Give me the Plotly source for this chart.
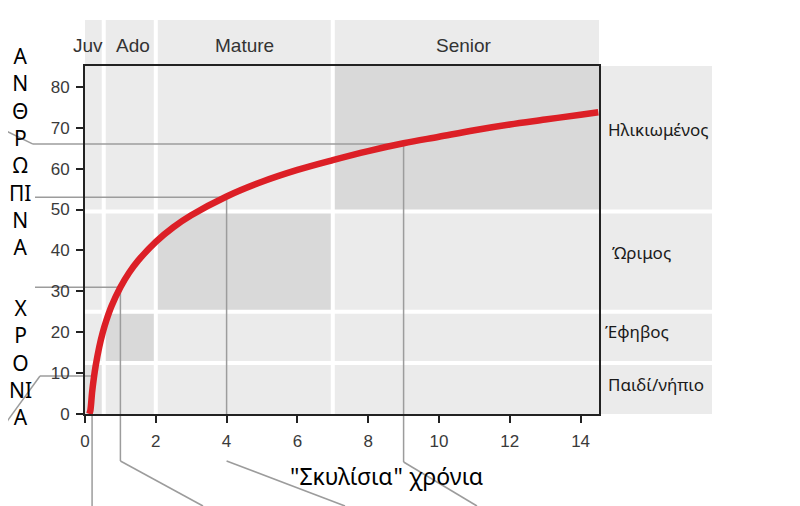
import plotly.graph_objects as go

# ---------------- data ----------------
dog_years = [0.12, 0.15, 0.2, 0.25, 0.3, 0.4, 0.5, 0.6, 0.75, 1, 1.25, 1.5, 2, 2.5,
             3, 4, 5, 6, 7, 8, 9, 10, 11, 12, 13, 14, 14.5]
human_years = [0, 0.8, 5.3, 8.8, 11.7, 16.3, 19.9, 22.8, 26.4, 31, 34.6, 37.5, 42.1, 45.7,
               48.6, 53.2, 56.8, 59.7, 62.1, 64.3, 66.2, 67.8, 69.4, 70.8, 72, 73.2, 73.8]

dog_stage_labels = ["Juv", "Ado", "Mature", "Senior"]
dog_stage_bounds = [0, 0.53, 2, 7, 14.52]
human_stage_labels = ["Παιδί/νήπιο", "Έφηβος", "Ώριμος", "Ηλικιωμένος"]
human_stage_bounds = [0, 12.5, 25, 49.5, 85.1]
human_label_pos = [7.1, 20.1, 39.4, 69.5]

guide_dog = [0.2, 1, 4, 9]
guide_human = [9.3, 31, 53, 66]

x_ticks = [0, 2, 4, 6, 8, 10, 12, 14]
y_ticks = [0, 10, 20, 30, 40, 50, 60, 70, 80]

left_title_1 = ["Α", "Ν", "Θ", "Ρ", "Ω", "ΠΙ", "Ν", "Α"]
left_title_2 = ["Χ", "Ρ", "Ο", "ΝΙ", "Α"]
x_title = '"Σκυλίσια" χρόνια'

# ---------------- layout geometry ----------------
OFF = 8                      # page body margin in the browser
W, H = 800, 506
PL, PT = 85, 66              # plot area top-left on the page
PW, PH = 514, 348
L, T = PL - OFF, PT - OFF
R, B = W - L - PW, H - T - PH
XR = [0, dog_stage_bounds[-1]]
YR = [0, human_stage_bounds[-1]]


def px_x(px):
    return (px - PL) / PW


def px_y(py):
    return (PT + PH - py) / PH


def dx(d):
    return (d - XR[0]) / (XR[1] - XR[0])


def hy(h):
    return (h - YR[0]) / (YR[1] - YR[0])


LIGHT = "#ebebeb"
DARK = "#d9d9d9"
JUV = "#e1e1e1"
GUIDE = "#9c9c9c"

shapes = []


def rect(x0, x1, y0, y1, color):
    shapes.append(dict(type="rect", xref="paper", yref="paper", x0=x0, x1=x1, y0=y0, y1=y1,
                       fillcolor=color, line=dict(width=0), layer="below"))


def seg(x0, y0, x1, y1, color=GUIDE, width=1.5):
    shapes.append(dict(type="line", xref="paper", yref="paper", x0=x0, y0=y0, x1=x1, y1=y1,
                       line=dict(color=color, width=width), layer="below"))


header_top = px_y(20)
panel_right = px_x(712)

# header band and right panel
rect(0, 1, 1, header_top, LIGHT)
rect(px_x(601), panel_right, 0, 1, LIGHT)

# darker diagonal cells
for i in range(4):
    rect(dx(dog_stage_bounds[i]), dx(dog_stage_bounds[i + 1]),
         hy(human_stage_bounds[i]), hy(human_stage_bounds[i + 1]), JUV if i == 0 else DARK)

# white separators
for b in dog_stage_bounds[1:-1]:
    seg(dx(b), 0, dx(b), header_top, "white", 4)
for b in human_stage_bounds[1:-1]:
    seg(0, hy(b), panel_right, hy(b), "white", 4)

# guide / leader lines
gx = [dx(v) for v in guide_dog]
gy = [hy(v) for v in guide_human]
# 0: dog 0.2
seg(px_x(0), px_y(431), px_x(40), gy[0])
seg(px_x(40), gy[0], gx[0], gy[0])
seg(gx[0], gy[0], gx[0], px_y(506))
# 1: dog 1
seg(px_x(35), gy[1], gx[1], gy[1])
seg(gx[1], gy[1], gx[1], px_y(461))
seg(gx[1], px_y(461), px_x(203), px_y(506))
# 2: dog 4
seg(px_x(35), gy[2], gx[2], gy[2])
seg(gx[2], gy[2], gx[2], 0)
seg(gx[2], px_y(461), px_x(345), px_y(506))
# 3: dog 9
seg(px_x(0), px_y(128), px_x(33), gy[3])
seg(px_x(33), gy[3], gx[3], gy[3])
seg(gx[3], gy[3], gx[3], px_y(462))
seg(gx[3], px_y(462), px_x(477), px_y(506))

# ---------------- figure ----------------
fig = go.Figure()
fig.add_trace(go.Scatter(x=dog_years, y=human_years, mode="lines",
                         line=dict(color="#dc1f26", width=6.5, shape="spline"),
                         hoverinfo="skip", showlegend=False))

annotations = []
hdr_shift = [-6, 3, 0, -2]
for i, lab in enumerate(dog_stage_labels):
    c = (dog_stage_bounds[i] + dog_stage_bounds[i + 1]) / 2
    annotations.append(dict(x=dx(c), y=px_y(45), xref="paper", yref="paper", text=lab,
                            showarrow=False, xanchor="center", yanchor="middle", xshift=hdr_shift[i],
                            font=dict(family="Liberation Sans, Arial", size=19, color="#333333")))

lab_x = [606, 603, 610, 606]
for i, lab in enumerate(human_stage_labels):
    annotations.append(dict(x=px_x(lab_x[i]), y=hy(human_label_pos[i]), xref="paper", yref="paper",
                            text=lab, showarrow=False, xanchor="left", yanchor="middle",
                            font=dict(family="Noto Sans", size=17, color="#1a1a1a")))

annotations.append(dict(x=px_x(20), y=px_y(151.5), xref="paper", yref="paper",
                        text="<br>".join(left_title_1), showarrow=False,
                        xanchor="center", yanchor="middle", align="center",
                        font=dict(family="Noto Sans", size=21, color="black")))
annotations.append(dict(x=px_x(20), y=px_y(362.5), xref="paper", yref="paper",
                        text="<br>".join(left_title_2), showarrow=False,
                        xanchor="center", yanchor="middle", align="center",
                        font=dict(family="Noto Sans", size=21, color="black")))
annotations.append(dict(x=px_x(386), y=px_y(476), xref="paper", yref="paper",
                        text=x_title, showarrow=False, xanchor="center", yanchor="middle",
                        font=dict(family="Noto Sans", size=23, color="black")))

axis_common = dict(showgrid=False, zeroline=False, showline=True, mirror=True,
                   linecolor="#222222", linewidth=2, ticks="outside", ticklen=7, tickwidth=2,
                   tickcolor="#222222",
                   tickfont=dict(family="Liberation Sans, Arial", size=17, color="#3a3a3a"))

fig.update_layout(
    width=W, height=H, autosize=False,
    margin=dict(l=L, r=R, t=T, b=B, pad=0),
    paper_bgcolor="white", plot_bgcolor=LIGHT,
    shapes=shapes, annotations=annotations, showlegend=False,
    xaxis=dict(range=XR, tickvals=x_ticks, ticklabelstandoff=4, **axis_common),
    yaxis=dict(range=YR, tickvals=y_ticks, ticklabelstandoff=3, **axis_common),
)

fig.write_html("out.html")
